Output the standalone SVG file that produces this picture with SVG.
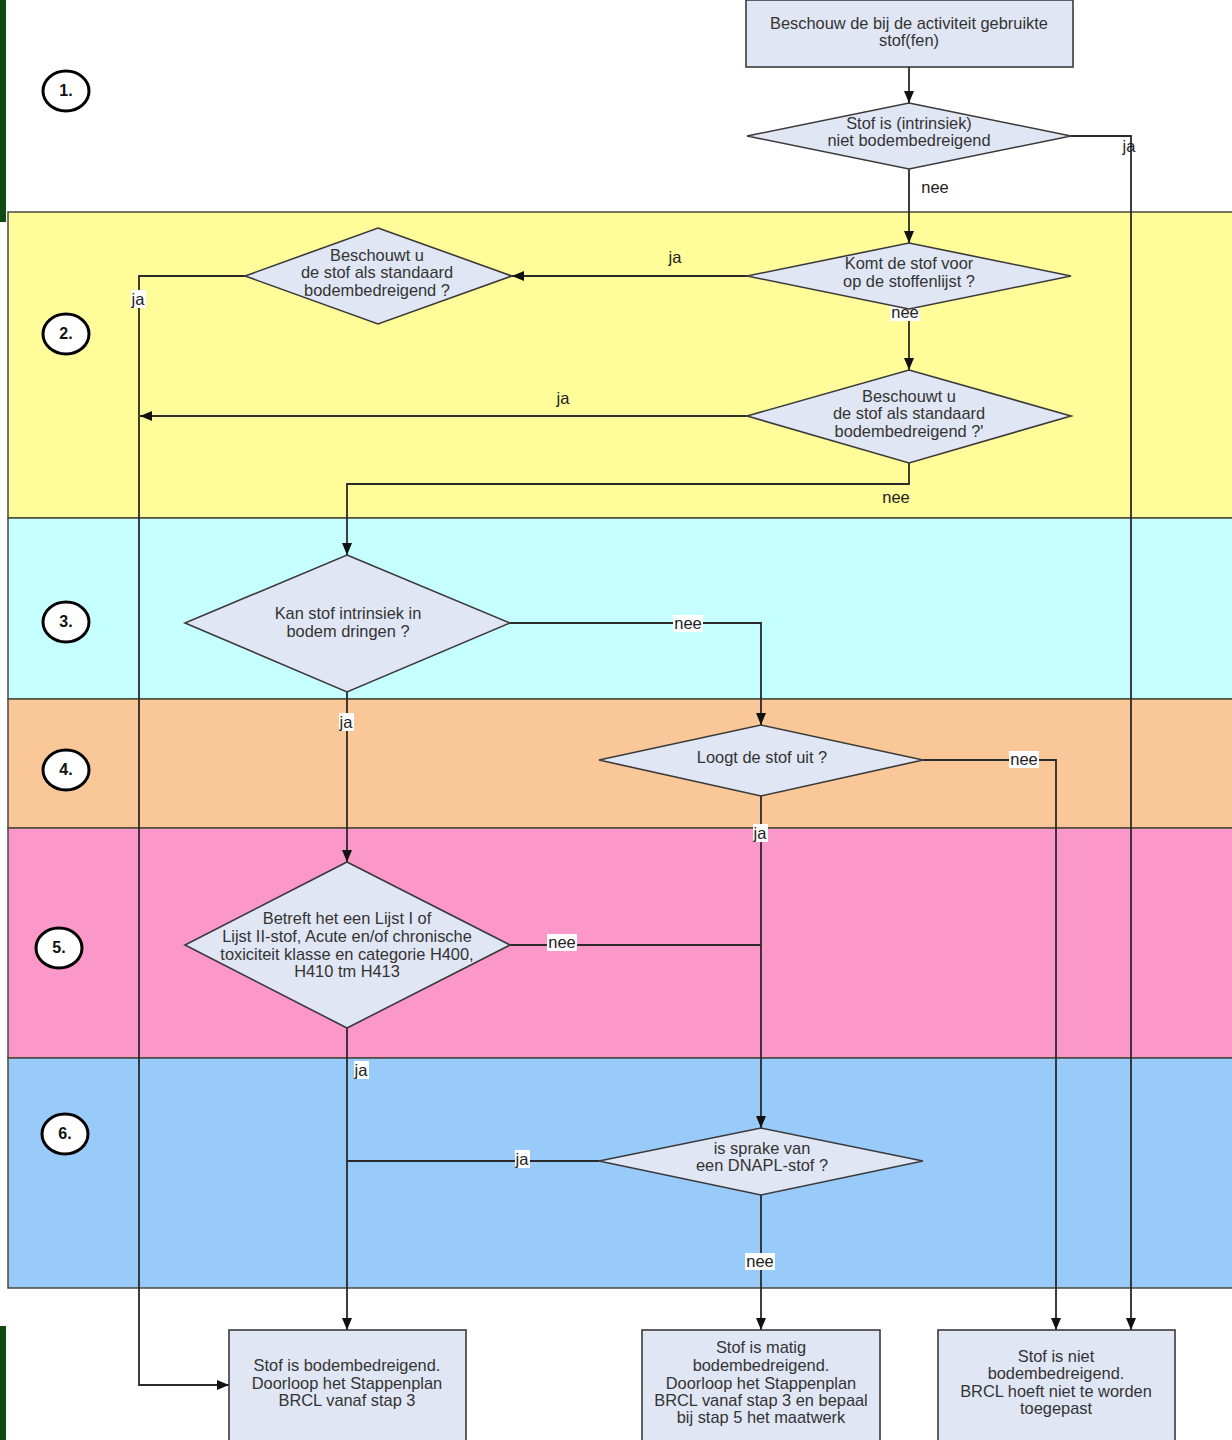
<svg xmlns="http://www.w3.org/2000/svg" width="1232" height="1440" viewBox="0 0 1232 1440">
<defs>
<marker id="arr" markerUnits="userSpaceOnUse" markerWidth="12" markerHeight="10" refX="12" refY="5" orient="auto">
<path d="M0,0 L12,5 L0,10 z" fill="#111"/>
</marker>
<style>
.band{stroke:#4a4a3a;stroke-width:1.5}
.node{fill:#E1E6F4;stroke:#3a3a3a;stroke-width:1.6}
.t{font-family:"Liberation Sans",Arial,sans-serif;font-size:16.4px;fill:#333;text-anchor:middle}
.lbl{font-family:"Liberation Sans",Arial,sans-serif;font-size:16.5px;fill:#222;text-anchor:middle}
.lb{fill:#fff}
.c{fill:none;stroke:#2a2a2a;stroke-width:1.8}
.num ellipse{fill:#fff;stroke:#000;stroke-width:3}
.num text{font-family:"Liberation Sans",Arial,sans-serif;font-size:16px;font-weight:bold;fill:#111;text-anchor:middle}
</style>
</defs>
<rect x="0" y="0" width="1232" height="1440" fill="#fff"/>
<rect x="0" y="0" width="6" height="222" fill="#124A14"/>
<rect x="0" y="1326" width="6" height="114" fill="#124A14"/>
<g id="bands">
<rect class="band" x="8" y="212" width="1230" height="306" fill="#FFFC99"/>
<rect class="band" x="8" y="518" width="1230" height="181" fill="#C6FFFF"/>
<rect class="band" x="8" y="699" width="1230" height="129" fill="#FAC898"/>
<rect class="band" x="8" y="828" width="1230" height="230" fill="#FB97C9"/>
<rect class="band" x="8" y="1058" width="1230" height="230" fill="#98CBFA"/>
</g>
<g id="steps" class="num">
<ellipse cx="66" cy="91" rx="23" ry="20"/><text x="66" y="96">1.</text>
<ellipse cx="66" cy="334" rx="23" ry="20"/><text x="66" y="339">2.</text>
<ellipse cx="66" cy="622" rx="23" ry="20"/><text x="66" y="627">3.</text>
<ellipse cx="66" cy="770" rx="23" ry="20"/><text x="66" y="775">4.</text>
<ellipse cx="59" cy="948" rx="23" ry="20"/><text x="59" y="953">5.</text>
<ellipse cx="65" cy="1134" rx="23" ry="20"/><text x="65" y="1139">6.</text>
</g>
<g id="connectors">
<path class="c" d="M909,67 V103" marker-end="url(#arr)"/>
<path class="c" d="M909,169 V243" marker-end="url(#arr)"/>
<path class="c" d="M1071,136 H1131 V1330" marker-end="url(#arr)"/>
<path class="c" d="M747,276 H512" marker-end="url(#arr)"/>
<path class="c" d="M245,276 H139 V1385 H229" marker-end="url(#arr)"/>
<path class="c" d="M909,309 V370" marker-end="url(#arr)"/>
<path class="c" d="M747,416 H140" marker-end="url(#arr)"/>
<path class="c" d="M909,463 V484 H347 V555" marker-end="url(#arr)"/>
<path class="c" d="M510,623 H761 V725" marker-end="url(#arr)"/>
<path class="c" d="M347,692 V862" marker-end="url(#arr)"/>
<path class="c" d="M923,760 H1056 V1330" marker-end="url(#arr)"/>
<path class="c" d="M761,796 V1128" marker-end="url(#arr)"/>
<path class="c" d="M510,945 H761"/>
<path class="c" d="M347,1028 V1330" marker-end="url(#arr)"/>
<path class="c" d="M599,1161 H347"/>
<path class="c" d="M761,1195 V1330" marker-end="url(#arr)"/>
<g id="labels">
<text class="lbl" x="1129" y="152">ja</text>
<text class="lbl" x="935" y="193">nee</text>
<text class="lbl" x="675" y="263">ja</text>
<rect class="lb" x="131" y="290" width="15" height="18"/><text class="lbl" x="138" y="305">ja</text>
<rect class="lb" x="890" y="304" width="30" height="17"/><text class="lbl" x="905" y="318">nee</text>
<text class="lbl" x="563" y="404">ja</text>
<text class="lbl" x="896" y="503">nee</text>
<rect class="lb" x="673" y="615" width="30" height="17"/><text class="lbl" x="688" y="629">nee</text>
<rect class="lb" x="339" y="713" width="15" height="18"/><text class="lbl" x="346" y="728">ja</text>
<rect class="lb" x="1009" y="751" width="30" height="17"/><text class="lbl" x="1024" y="765">nee</text>
<rect class="lb" x="753" y="824" width="15" height="18"/><text class="lbl" x="760" y="839">ja</text>
<rect class="lb" x="547" y="934" width="30" height="17"/><text class="lbl" x="562" y="948">nee</text>
<rect class="lb" x="354" y="1061" width="15" height="18"/><text class="lbl" x="361" y="1076">ja</text>
<rect class="lb" x="515" y="1150" width="15" height="18"/><text class="lbl" x="522" y="1165">ja</text>
<rect class="lb" x="745" y="1253" width="30" height="17"/><text class="lbl" x="760" y="1267">nee</text>
</g>
</g>
<g id="n-start">
<rect class="node" x="746" y="0" width="327" height="67"/>
<text class="t" x="909" y="29">Beschouw de bij de activiteit gebruikte</text>
<text class="t" x="909" y="46">stof(fen)</text>
</g>
<g id="n-intrinsiek">
<polygon class="node" points="909,103 1071,136 909,169 747,136"/>
<text class="t" x="909" y="129">Stof is (intrinsiek)</text>
<text class="t" x="909" y="146">niet bodembedreigend</text>
</g>
<g id="n-stoffenlijst">
<polygon class="node" points="909,243 1071,276 909,309 747,276"/>
<text class="t" x="909" y="269">Komt de stof voor</text>
<text class="t" x="909" y="287">op de stoffenlijst ?</text>
</g>
<g id="n-standaard1">
<polygon class="node" points="378,228 512,276 378,324 245,276"/>
<text class="t" x="377" y="261">Beschouwt u</text>
<text class="t" x="377" y="278">de stof als standaard</text>
<text class="t" x="377" y="296">bodembedreigend ?</text>
</g>
<g id="n-standaard2">
<polygon class="node" points="909,370 1071,416 909,463 747,416"/>
<text class="t" x="909" y="402">Beschouwt u</text>
<text class="t" x="909" y="419">de stof als standaard</text>
<text class="t" x="909" y="437">bodembedreigend ?'</text>
</g>
<g id="n-dringen">
<polygon class="node" points="347,555 510,623 347,692 185,623"/>
<text class="t" x="348" y="619">Kan stof intrinsiek in</text>
<text class="t" x="348" y="637">bodem dringen ?</text>
</g>
<g id="n-loogt">
<polygon class="node" points="761,725 923,760 761,796 599,760"/>
<text class="t" x="762" y="763">Loogt de stof uit ?</text>
</g>
<g id="n-lijst">
<polygon class="node" points="347,862 510,945 347,1028 185,945"/>
<text class="t" x="347" y="924">Betreft het een Lijst I of</text>
<text class="t" x="347" y="942">Lijst II-stof, Acute en/of chronische</text>
<text class="t" x="347" y="960">toxiciteit klasse en categorie H400,</text>
<text class="t" x="347" y="977">H410 tm H413</text>
</g>
<g id="n-dnapl">
<polygon class="node" points="761,1128 923,1161 761,1195 599,1161"/>
<text class="t" x="762" y="1154">is sprake van</text>
<text class="t" x="762" y="1171">een DNAPL-stof ?</text>
</g>
<g id="n-bodembedreigend">
<rect class="node" x="229" y="1330" width="237" height="115"/>
<text class="t" x="347" y="1371">Stof is bodembedreigend.</text>
<text class="t" x="347" y="1389">Doorloop het Stappenplan</text>
<text class="t" x="347" y="1406">BRCL vanaf stap 3</text>
</g>
<g id="n-matig">
<rect class="node" x="642" y="1330" width="238" height="115"/>
<text class="t" x="761" y="1353">Stof is matig</text>
<text class="t" x="761" y="1371">bodembedreigend.</text>
<text class="t" x="761" y="1389">Doorloop het Stappenplan</text>
<text class="t" x="761" y="1406">BRCL vanaf stap 3 en bepaal</text>
<text class="t" x="761" y="1423">bij stap 5 het maatwerk</text>
</g>
<g id="n-niet">
<rect class="node" x="938" y="1330" width="237" height="115"/>
<text class="t" x="1056" y="1362">Stof is niet</text>
<text class="t" x="1056" y="1379">bodembedreigend.</text>
<text class="t" x="1056" y="1397">BRCL hoeft niet te worden</text>
<text class="t" x="1056" y="1414">toegepast</text>
</g>
</svg>
